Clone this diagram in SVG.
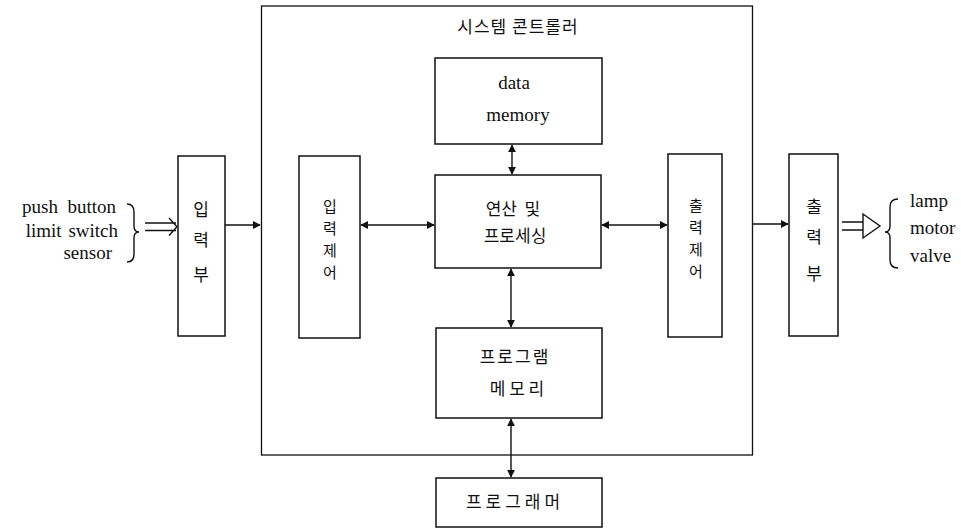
<svg xmlns="http://www.w3.org/2000/svg" width="961" height="532" viewBox="0 0 961 532">
<style>
.box{fill:none;stroke:#111;stroke-width:1.5}
.frame{fill:none;stroke:#111;stroke-width:1.3}
.ln{fill:none;stroke:#111;stroke-width:1.4}
.ko{font-family:"Noto Sans CJK KR","Noto Sans",sans-serif;font-size:17px;fill:#111;text-anchor:middle}
.kv{font-family:"Noto Sans CJK KR","Noto Sans",sans-serif;font-size:15px;fill:#111;text-anchor:middle}
.en{font-family:"Liberation Serif",serif;font-size:19px;fill:#111}
.mid{text-anchor:middle}
</style>
<defs>
<marker id="ah" viewBox="0 0 10 10" refX="9" refY="5" markerWidth="8" markerHeight="8" markerUnits="userSpaceOnUse" orient="auto-start-reverse">
<path d="M0,0 L10,5 L0,10 z" fill="#111"/>
</marker>
</defs>
<rect width="961" height="532" fill="#fff"/>

<g id="controller">
<rect class="frame" x="261.5" y="6" width="491" height="449"/>
<text class="ko" x="518" y="33" letter-spacing="1">시스템 콘트롤러</text>
</g>

<g id="data-memory">
<rect class="box" x="435" y="58" width="167" height="86"/>
<text class="en mid" x="514" y="89">data</text>
<text class="en mid" x="518" y="121">memory</text>
</g>

<g id="processing">
<rect class="box" x="435" y="175" width="166" height="93"/>
<text class="ko" x="513" y="215" xml:space="preserve">연산  및</text>
<text class="ko" x="515" y="242">프로세싱</text>
</g>

<g id="program-memory">
<rect class="box" x="436" y="328" width="166" height="90"/>
<text class="ko" x="515" y="363" letter-spacing="2">프로그램</text>
<text class="ko" x="517" y="395">메 모 리</text>
</g>

<g id="programmer">
<rect class="box" x="436" y="478" width="166" height="49"/>
<text class="ko" x="515" y="508" letter-spacing="4">프로그래머</text>
</g>

<g id="input-control">
<rect class="box" x="299" y="156" width="61" height="182"/>
<text class="kv" x="330" y="212">입</text>
<text class="kv" x="330" y="234">력</text>
<text class="kv" x="330" y="256">제</text>
<text class="kv" x="330" y="278">어</text>
</g>

<g id="output-control">
<rect class="box" x="668" y="154" width="54" height="183"/>
<text class="kv" x="696" y="211">출</text>
<text class="kv" x="696" y="233">력</text>
<text class="kv" x="696" y="255">제</text>
<text class="kv" x="696" y="277">어</text>
</g>

<g id="input-unit">
<rect class="box" x="178" y="156" width="47" height="180"/>
<text class="ko" x="201" y="216">입</text>
<text class="ko" x="201" y="246">력</text>
<text class="ko" x="201" y="281">부</text>
</g>

<g id="output-unit">
<rect class="box" x="789" y="154" width="49" height="182"/>
<text class="ko" x="814" y="213">출</text>
<text class="ko" x="814" y="243">력</text>
<text class="ko" x="814" y="280">부</text>
</g>

<g id="inputs">
<text class="en" x="116" y="213" text-anchor="end" xml:space="preserve">push  button</text>
<text class="en" x="118" y="237" text-anchor="end" word-spacing="2">limit switch</text>
<text class="en" x="112" y="259" text-anchor="end">sensor</text>
<path class="ln" d="M127,204 Q134,204 134,212 L134,226 Q134,232 139,232 Q134,232 134,238 L134,254 Q134,262 127,262"/>
</g>

<g id="outputs">
<path class="ln" d="M898,199 Q890,199 890,207 L890,226 Q890,232 885,232 Q890,232 890,238 L890,260 Q890,268 898,268"/>
<text class="en" x="910" y="207">lamp</text>
<text class="en" x="910" y="234">motor</text>
<text class="en" x="910" y="262">valve</text>
</g>

<g id="connectors">
<line class="ln" x1="512" y1="145" x2="512" y2="174" marker-start="url(#ah)" marker-end="url(#ah)"/>
<line class="ln" x1="511" y1="269" x2="511" y2="327" marker-start="url(#ah)" marker-end="url(#ah)"/>
<line class="ln" x1="511" y1="419" x2="511" y2="477" marker-start="url(#ah)" marker-end="url(#ah)"/>
<line class="ln" x1="361" y1="225" x2="434" y2="225" marker-start="url(#ah)" marker-end="url(#ah)"/>
<line class="ln" x1="602" y1="225" x2="667" y2="225" marker-start="url(#ah)" marker-end="url(#ah)"/>
<line class="ln" x1="225" y1="225" x2="260" y2="225" marker-end="url(#ah)"/>
<line class="ln" x1="752" y1="224" x2="788" y2="224" marker-end="url(#ah)"/>
<path class="ln" d="M145,223 L176,223 M145,230.5 L176,230.5 M169,218 L177,226.8 L169,235.5"/>
<path class="ln" d="M842,222 L863,222 M842,230 L863,230 M863,214 L880,226 L863,238 Z" fill="#fff"/>
</g>
</svg>
